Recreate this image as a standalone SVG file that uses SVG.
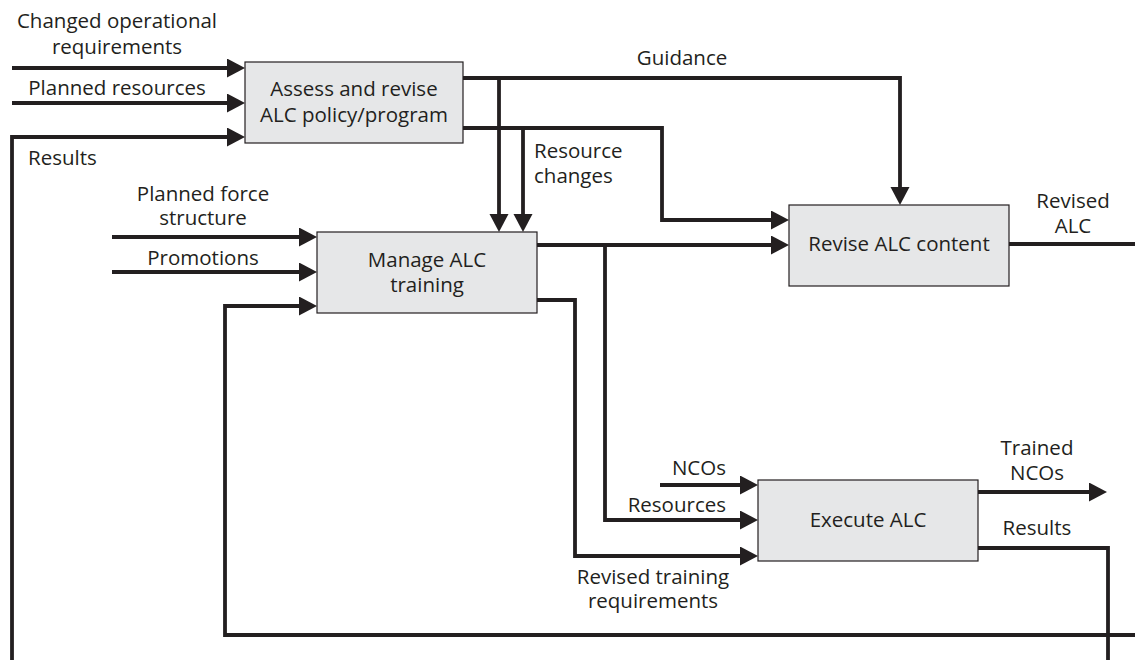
<svg xmlns="http://www.w3.org/2000/svg" width="1135" height="660" viewBox="0 0 1135 660">
<style>
  .box{fill:#e6e7e8;stroke:#231f20;stroke-width:1.2}
  .ln{fill:none;stroke:#231f20;stroke-width:3.8;stroke-linejoin:miter}
  text{font-family:"Open Sans","Noto Sans","Liberation Sans",sans-serif;font-size:20.5px;fill:#231f20}
  .c{text-anchor:middle}
  .e{text-anchor:end}
</style>
<defs>
  <marker id="ah" markerUnits="userSpaceOnUse" markerWidth="19" markerHeight="20" refX="9" refY="9.5" orient="auto" viewBox="0 0 19 20">
    <path d="M0,0 L18,9.5 L0,19 Z" fill="#231f20"/>
  </marker>
</defs>
<rect width="1135" height="660" fill="#fff"/>
<g id="connectors">
  <path class="ln" d="M12,68 H236" marker-end="url(#ah)"/>
  <path class="ln" d="M12,103 H236" marker-end="url(#ah)"/>
  <path class="ln" d="M12,660 V137 H236" marker-end="url(#ah)"/>
  <path class="ln" d="M463,78 H900 V196" marker-end="url(#ah)"/>
  <path class="ln" d="M499,78 V223" marker-end="url(#ah)"/>
  <path class="ln" d="M463,128 H662 V220 H780" marker-end="url(#ah)"/>
  <path class="ln" d="M523,128 V223" marker-end="url(#ah)"/>
  <path class="ln" d="M112,237 H308" marker-end="url(#ah)"/>
  <path class="ln" d="M112,272 H308" marker-end="url(#ah)"/>
  <path class="ln" d="M1135,635 H225 V306 H308" marker-end="url(#ah)"/>
  <path class="ln" d="M537,245 H780" marker-end="url(#ah)"/>
  <path class="ln" d="M605,245 V520 H749" marker-end="url(#ah)"/>
  <path class="ln" d="M537,300 H575 V556 H749" marker-end="url(#ah)"/>
  <path class="ln" d="M660,485 H749" marker-end="url(#ah)"/>
  <path class="ln" d="M978,492 H1098" marker-end="url(#ah)"/>
  <path class="ln" d="M978,548 H1108 V660"/>
  <path class="ln" d="M1009,244 H1135"/>
</g>
<g id="labels">
  <text class="c" x="117" y="28">Changed operational</text>
  <text class="c" x="117" y="54">requirements</text>
  <text class="c" x="117" y="95">Planned resources</text>
  <text x="28" y="165">Results</text>
  <text class="c" x="682" y="65">Guidance</text>
  <text x="534" y="158">Resource</text>
  <text x="534" y="183">changes</text>
  <text class="c" x="203" y="201">Planned force</text>
  <text class="c" x="203" y="225">structure</text>
  <text class="c" x="203" y="265">Promotions</text>
  <text class="c" x="1073" y="208">Revised</text>
  <text class="c" x="1073" y="233">ALC</text>
  <text class="e" x="726" y="475">NCOs</text>
  <text class="e" x="726" y="512">Resources</text>
  <text class="c" x="653" y="584">Revised training</text>
  <text class="c" x="653" y="608">requirements</text>
  <text class="c" x="1037" y="455">Trained</text>
  <text class="c" x="1037" y="480">NCOs</text>
  <text class="c" x="1037" y="535">Results</text>
</g>
<g id="assess">
  <rect class="box" x="245" y="62" width="218" height="81"/>
  <text class="c" x="354" y="96">Assess and revise</text>
  <text class="c" x="354" y="122">ALC policy/program</text>
</g>
<g id="manage">
  <rect class="box" x="317" y="232" width="220" height="81"/>
  <text class="c" x="427" y="267">Manage ALC</text>
  <text class="c" x="427" y="292">training</text>
</g>
<g id="revise">
  <rect class="box" x="789" y="205" width="220" height="81"/>
  <text class="c" x="899" y="251">Revise ALC content</text>
</g>
<g id="execute">
  <rect class="box" x="758" y="480" width="220" height="81"/>
  <text class="c" x="868" y="527">Execute ALC</text>
</g>
</svg>
